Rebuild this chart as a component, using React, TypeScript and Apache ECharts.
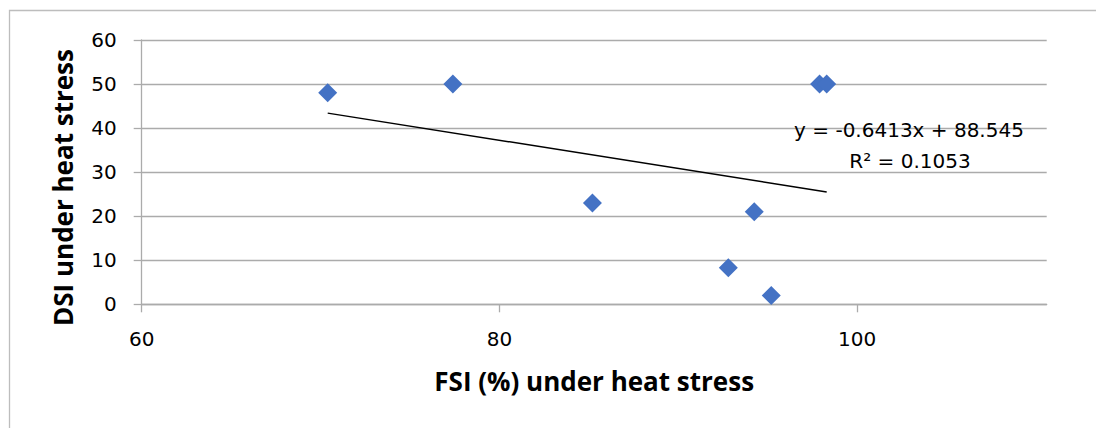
import React, { useEffect, useRef } from "react";
import * as echarts from "echarts";

const fsi = [70.4, 77.4, 85.2, 92.8, 94.25, 95.2, 97.9, 98.3];
const dsi = [48, 50, 23, 8.3, 21, 2, 50, 50];
const xTicks = [60, 80, 100];
const trendSlope = -0.6413;
const trendIntercept = 88.545;
const eqText = "y = -0.6413x + 88.545";
const r2Text = "R² = 0.1053";
const xTitle = "FSI (%) under heat stress";
const yTitle = "DSI under heat stress";

const GRID = "#ababab";
const REG = "'DejaVu Sans', sans-serif";
const BOLD = "'Open Sans', sans-serif";

export default function App() {
  const ref = useRef<HTMLDivElement>(null);
  useEffect(() => {
    if (!ref.current) return;
    const chart = echarts.init(ref.current, null, { renderer: "svg" });
    const points = fsi.map((x, i) => [x, dsi[i]]);
    const xMin = Math.min(...fsi);
    const xMax = Math.max(...fsi);
    const trend = [
      [xMin, trendSlope * xMin + trendIntercept],
      [xMax, trendSlope * xMax + trendIntercept],
    ];
    chart.setOption({
      animation: false,
      backgroundColor: "#ffffff",
      grid: { left: 141.7, top: 40, right: 49.3, bottom: 123.7, containLabel: false },
      xAxis: {
        type: "value",
        min: 60,
        max: 110.6,
        interval: 20,
        name: xTitle,
        nameLocation: "middle",
        nameGap: 64,
        nameTextStyle: { fontFamily: BOLD, fontWeight: "bold", fontSize: 26, color: "#000" },
        axisLine: { show: true, lineStyle: { color: GRID, width: 1.3 } },
        axisTick: { show: true, length: 8, customValues: xTicks, lineStyle: { color: GRID, width: 1.3 } },
        axisLabel: { customValues: xTicks, margin: 25, fontFamily: REG, fontSize: 20, color: "#000" },
        splitLine: { show: false },
      },
      yAxis: {
        type: "value",
        min: 0,
        max: 60,
        interval: 10,
        axisLine: { show: true, lineStyle: { color: GRID, width: 1.3 } },
        axisTick: { show: true, length: 8, lineStyle: { color: GRID, width: 1.3 } },
        axisLabel: { margin: 25, fontFamily: REG, fontSize: 20, color: "#000" },
        splitLine: { show: true, lineStyle: { color: GRID, width: 1.3 } },
      },
      graphic: [
        {
          type: "polyline",
          shape: { points: [[9.5, 428], [9.5, 10.5], [1096, 10.5]] },
          style: { stroke: "#bdbdbd", lineWidth: 1.3, fill: null },
          silent: true,
        },
        {
          type: "text",
          x: 62.5,
          y: 187.5,
          rotation: Math.PI / 2,
          style: {
            text: yTitle,
            align: "center",
            verticalAlign: "middle",
            fontFamily: BOLD,
            fontWeight: "bold",
            fontSize: 26,
            fill: "#000",
          },
        },
        {
          type: "text",
          x: 909,
          y: 130,
          style: { text: eqText, align: "center", verticalAlign: "middle", fontFamily: REG, fontSize: 20, fill: "#000" },
          z: 10,
        },
        {
          type: "text",
          x: 910,
          y: 161,
          style: { text: r2Text, align: "center", verticalAlign: "middle", fontFamily: REG, fontSize: 20, fill: "#000" },
          z: 10,
        },
      ],
      series: [
        {
          type: "line",
          data: trend,
          showSymbol: false,
          symbol: "none",
          lineStyle: { color: "#000", width: 1.5 },
          z: 2,
        },
        {
          type: "scatter",
          data: points,
          symbol: "diamond",
          symbolSize: 19,
          itemStyle: { color: "#4472C4", opacity: 1 },
          z: 3,
        },
      ],
    });
    return () => chart.dispose();
  }, []);
  return (
    <div
      ref={ref}
      style={{ position: "fixed", left: 0, top: 0, width: 1096, height: 428, background: "#fff" }}
    />
  );
}
